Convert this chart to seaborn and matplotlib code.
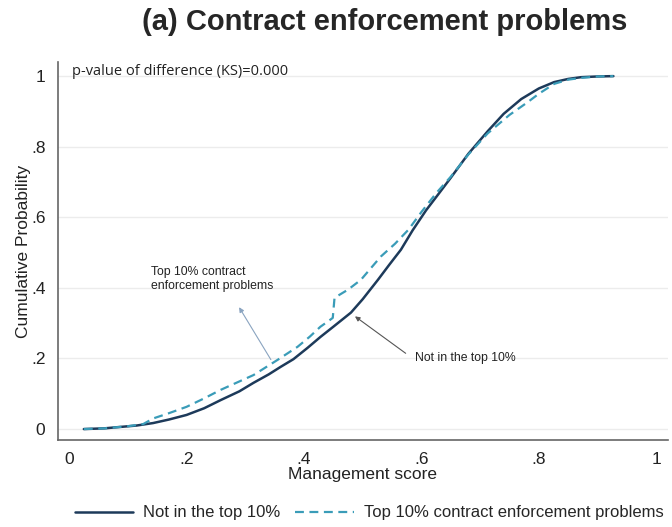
import matplotlib
matplotlib.use("Agg")
import matplotlib.pyplot as plt
import numpy as np
import pandas as pd
import seaborn as sns

score_not_top = [0.025, 0.06, 0.087, 0.115, 0.143, 0.17, 0.20, 0.23, 0.258, 0.29, 0.314,
                 0.34, 0.36, 0.382, 0.406, 0.428, 0.45, 0.48, 0.50, 0.526, 0.545, 0.565,
                 0.585, 0.608, 0.63, 0.65, 0.68, 0.713, 0.74, 0.77, 0.80, 0.826, 0.85,
                 0.872, 0.90, 0.927]
cdf_not_top = [0.0, 0.002, 0.006, 0.010, 0.017, 0.027, 0.040, 0.059, 0.082, 0.107, 0.131,
               0.155, 0.176, 0.198, 0.230, 0.261, 0.290, 0.330, 0.368, 0.423, 0.465, 0.508,
               0.563, 0.620, 0.668, 0.712, 0.780, 0.844, 0.893, 0.935, 0.965, 0.983, 0.992,
               0.997, 0.999, 1.0]

score_top = [0.025, 0.06, 0.10, 0.126, 0.143, 0.17, 0.20, 0.23, 0.258, 0.29, 0.314, 0.355,
             0.389, 0.41, 0.428, 0.44, 0.449, 0.452, 0.475, 0.497, 0.531, 0.555, 0.578,
             0.60, 0.625, 0.65, 0.68, 0.713, 0.75, 0.78, 0.80, 0.826, 0.85, 0.872, 0.90,
             0.927]
cdf_top = [0.0, 0.002, 0.008, 0.014, 0.030, 0.045, 0.063, 0.087, 0.111, 0.135, 0.153, 0.196,
           0.233, 0.262, 0.290, 0.304, 0.315, 0.372, 0.395, 0.423, 0.489, 0.525, 0.565,
           0.615, 0.668, 0.715, 0.778, 0.838, 0.890, 0.925, 0.950, 0.978, 0.990, 0.995,
           0.999, 1.0]

label_not_top = "Not in the top 10%"
label_top = "Top 10% contract enforcement problems"
x_ticks = [0, 0.2, 0.4, 0.6, 0.8, 1]
x_tick_labels = ["0", ".2", ".4", ".6", ".8", "1"]
y_ticks = [0, 0.2, 0.4, 0.6, 0.8, 1]
y_tick_labels = ["0", ".2", ".4", ".6", ".8", "1"]

navy = "#1d3a5a"
teal = "#3a9cb8"

sns.set_style("white")
plt.rcParams["font.family"] = ["Liberation Sans", "DejaVu Sans"]

df_not = pd.DataFrame({"score": score_not_top, "cdf": cdf_not_top})
df_top = pd.DataFrame({"score": score_top, "cdf": cdf_top})

fig = plt.figure(figsize=(6.72, 5.27), dpi=100)
ax = fig.add_axes([58 / 672, 1 - 440 / 527, 610 / 672, 378 / 527])

sns.lineplot(data=df_not, x="score", y="cdf", ax=ax, color=navy, linewidth=1.8,
             label=label_not_top, sort=False)
sns.lineplot(data=df_top, x="score", y="cdf", ax=ax, color=teal, linewidth=1.6,
             linestyle=(0, (4, 2.5)), label=label_top, sort=False)

ax.set_xlim(-0.019, 1.02)
ax.set_ylim(-0.031, 1.04)
ax.set_xticks(x_ticks)
ax.set_xticklabels(x_tick_labels, fontsize=12.5, color="#222222")
ax.set_yticks(y_ticks)
ax.set_yticklabels(y_tick_labels, fontsize=12.5, color="#222222")
ax.tick_params(axis="both", direction="out", length=5, width=1, color="#555555", pad=4)
ax.yaxis.grid(True, color="#ececec", linewidth=1)
ax.set_axisbelow(True)
for side in ["top", "right"]:
    ax.spines[side].set_visible(False)
for side in ["left", "bottom"]:
    ax.spines[side].set_color("#666666")
    ax.spines[side].set_linewidth(1.2)

ax.set_xlabel("Management score", fontsize=12.5, labelpad=0, color="#222222")
ax.set_ylabel("Cumulative Probability", fontsize=12.5, labelpad=0, color="#222222")

ax.text(0.004, 1.014, "p-value of difference (KS)=0.000", fontsize=10.5,
        ha="left", va="center", color="#222222",
        family=["Open Sans", "DejaVu Sans"])

# annotation for the dashed curve
ax.annotate("", xy=(0.287, 0.352), xytext=(0.346, 0.19),
            arrowprops=dict(arrowstyle="-|>", color="#8aa4c0", lw=0.8, mutation_scale=7))
ax.text(0.140, 0.425, "Top 10% contract\nenforcement problems", fontsize=8.8,
        color="#222222", ha="left", va="center", linespacing=1.3)

# annotation for the solid curve
ax.annotate("", xy=(0.483, 0.324), xytext=(0.577, 0.21),
            arrowprops=dict(arrowstyle="-|>", color="#555555", lw=0.8, mutation_scale=7))
ax.text(0.589, 0.2, "Not in the top 10%", fontsize=8.8, color="#222222",
        ha="left", va="center")

ax.get_legend().remove()
handles, labels = ax.get_legend_handles_labels()
fig.legend(handles, labels, loc="center", bbox_to_anchor=(369 / 672, 1 - 513 / 527),
           ncol=2, frameon=False, fontsize=12, handlelength=3.5, columnspacing=0.9,
           handletextpad=0.6)

fig.suptitle("(a) Contract enforcement problems", fontsize=21, fontweight="bold",
             y=1 - 22 / 527, va="center", x=385 / 672)

fig.savefig("out.png", dpi=100)
